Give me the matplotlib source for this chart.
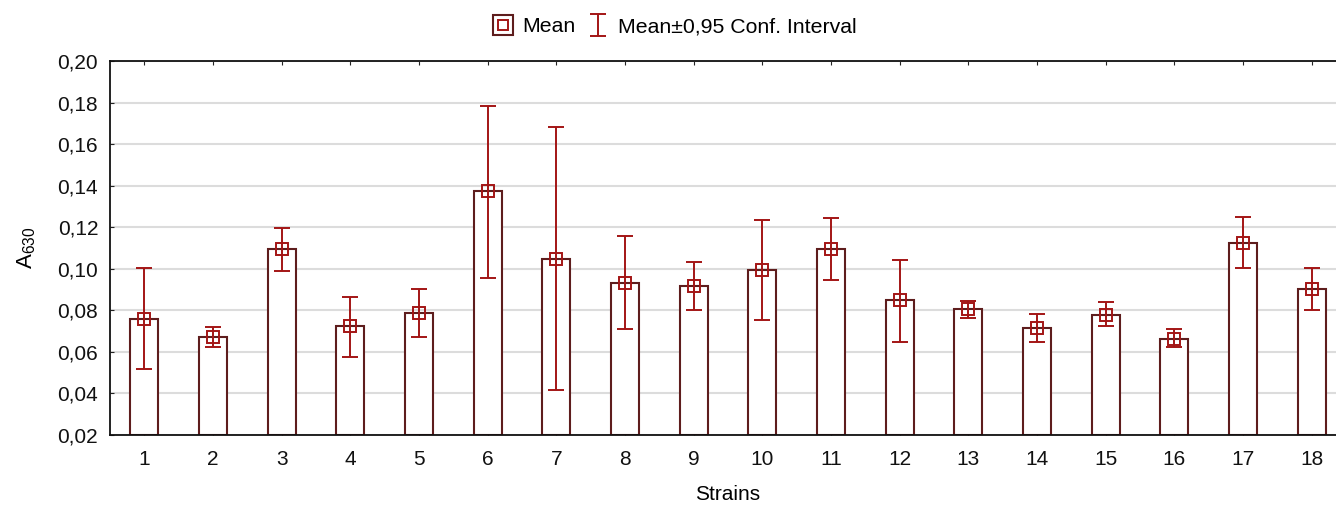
import matplotlib
matplotlib.use("Agg")
import matplotlib.pyplot as plt
from matplotlib.lines import Line2D
from matplotlib.legend_handler import HandlerTuple
from matplotlib.ticker import FuncFormatter, MultipleLocator

plt.rcParams['font.family'] = ['Liberation Sans', 'DejaVu Sans']
plt.rcParams['mathtext.fontset'] = 'custom'
plt.rcParams['mathtext.rm'] = 'Liberation Sans'
plt.rcParams['mathtext.it'] = 'Liberation Sans'

strains = list(range(1, 19))
means = [0.0757, 0.0670, 0.1095, 0.0726, 0.0786, 0.1374, 0.1048, 0.0933, 0.0917,
         0.0994, 0.1095, 0.0848, 0.0808, 0.0715, 0.0779, 0.0662, 0.1125, 0.0901]
ci_upper = [0.1003, 0.0718, 0.1195, 0.0864, 0.0903, 0.1783, 0.1681, 0.1158, 0.1032,
            0.1233, 0.1243, 0.1042, 0.0846, 0.0784, 0.0839, 0.0709, 0.1249, 0.1002]
ci_lower = [0.0516, 0.0625, 0.0988, 0.0577, 0.0670, 0.0956, 0.0415, 0.0708, 0.0801,
            0.0755, 0.0947, 0.0646, 0.0762, 0.0646, 0.0723, 0.0624, 0.1002, 0.0800]
y_min, y_max = 0.02, 0.20

bar_edge = '#5e1d1d'
err_col = '#a31515'

fig = plt.figure(figsize=(13.36, 5.08), dpi=100)
ax = fig.add_axes([110/1336, 73/508, 1236/1336, 374/508])

ax.bar(strains, [m - y_min for m in means], bottom=y_min, width=0.41,
       color='white', edgecolor=bar_edge, linewidth=1.5, zorder=2)
yerr = [[m - lo for m, lo in zip(means, ci_lower)], [hi - m for m, hi in zip(means, ci_upper)]]
eb = ax.errorbar(strains, means, yerr=yerr, fmt='none', ecolor=err_col, elinewidth=1.4,
                 capsize=5.5, capthick=1.4, zorder=3)
ax.plot(strains, means, linestyle='none', marker='s', markersize=8, markerfacecolor='none',
        markeredgecolor=err_col, markeredgewidth=1.4, zorder=4)

ax.set_xlim(0.5, 18.5)
ax.set_ylim(y_min, y_max)
ax.yaxis.set_major_locator(MultipleLocator(0.02))
ax.yaxis.set_major_formatter(FuncFormatter(lambda v, p: f"{v:.2f}".replace('.', ',')))
ax.set_xticks(strains)
ax.set_xticklabels([str(s) for s in strains])
ax.grid(axis='y', color='#dcdcdc', linewidth=1.5, zorder=0)
ax.set_axisbelow(True)
ax.tick_params(axis='both', direction='in', labelsize=15, length=3, colors='#222222',
               labelcolor='#111111', pad=8.5)
ax.tick_params(axis='x', top=True, pad=10.5)
for s in ax.spines.values():
    s.set_color('#111111')
    s.set_linewidth(1.3)

ax.set_xlabel('Strains', fontsize=15, labelpad=12)
ax.set_ylabel(r'$\mathrm{A}_{\mathrm{630}}$', fontsize=16, labelpad=14)

h_mean = (Line2D([], [], linestyle='none', marker='s', markersize=15, markerfacecolor='none',
                 markeredgecolor=bar_edge, markeredgewidth=1.5),
          Line2D([], [], linestyle='none', marker='s', markersize=7, markerfacecolor='none',
                 markeredgecolor=err_col, markeredgewidth=1.4))
fig.legend([h_mean, eb], ['Mean', 'Mean±0,95 Conf. Interval'],
           handler_map={tuple: HandlerTuple(ndivide=1)},
           loc='center', bbox_to_anchor=(673/1336, 1 - 27/508), ncol=2, frameon=False,
           fontsize=15.3, handlelength=1.2, handletextpad=0.3, columnspacing=0.5)

fig.savefig('out.png', dpi=100)
